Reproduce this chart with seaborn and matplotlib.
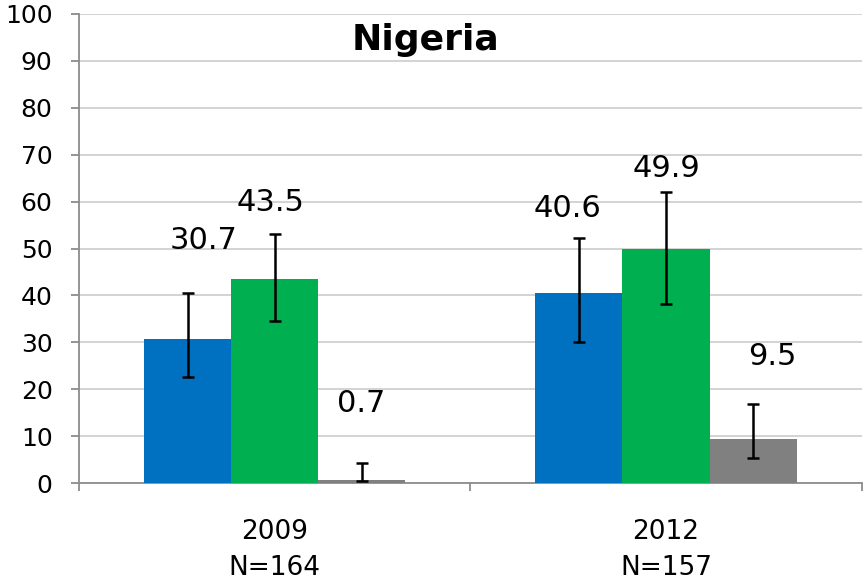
import numpy as np
import pandas as pd
import matplotlib
matplotlib.use("Agg")
import matplotlib.pyplot as plt
import seaborn as sns

# data
years = ["2009\nN=164", "2012\nN=157"]
series = ["Series 1", "Series 2", "Series 3"]
values_2009 = [30.7, 43.5, 0.7]
values_2012 = [40.6, 49.9, 9.5]
upper_2009 = [40.5, 53.2, 4.3]
lower_2009 = [22.6, 34.5, 0.4]
upper_2012 = [52.2, 62.0, 16.8]
lower_2012 = [30.1, 38.2, 5.3]

colors = ["#0070C0", "#00B050", "#808080"]
# how far above the upper error whisker each value label sits
label_offsets = [[11.3, 6.7, 12.7], [6.4, 5.0, 10.1]]
label_shift_x = [[0.04, -0.01, 0.0], [-0.03, 0.0, 0.05]]

rows = []
for year, vals in zip(years, [values_2009, values_2012]):
    for s, v in zip(series, vals):
        rows.append({"year": year, "series": s, "value": v})
df = pd.DataFrame(rows)

sns.set_style("white")
plt.rcParams["font.family"] = ["DejaVu Sans"]
plt.rcParams["text.color"] = "black"
plt.rcParams["xtick.labelcolor"] = "black"
plt.rcParams["ytick.labelcolor"] = "black"

fig = plt.figure(figsize=(8.66, 5.80), dpi=100)
ax = fig.add_axes([0.0912, 0.167, 0.9038, 0.809])

sns.barplot(data=df, x="year", y="value", hue="series", palette=colors,
            width=0.667, gap=0, errorbar=None, legend=False, ax=ax,
            saturation=1, edgecolor="none", zorder=3)

uppers = [upper_2009, upper_2012]
lowers = [lower_2009, lower_2012]
bar_containers = list(ax.containers)
for si, cont in enumerate(bar_containers):
    for ci, bar in enumerate(cont.patches):
        xc = bar.get_x() + bar.get_width() / 2
        v = bar.get_height()
        up, lo = uppers[ci][si], lowers[ci][si]
        ax.errorbar(xc, v, yerr=[[v - lo], [up - v]], fmt="none",
                    ecolor="black", elinewidth=1.8, capsize=4.3,
                    capthick=1.8, zorder=4)
        ax.text(xc + label_shift_x[ci][si], up + label_offsets[ci][si],
                f"{v:.1f}", ha="center", va="center", fontsize=22,
                color="black")

ax.set_ylim(0, 100)
ax.set_xlim(-0.5, 1.5)
ax.set_yticks(range(0, 101, 10))
ax.yaxis.grid(True, color="#D0D0D0", linewidth=1.3, zorder=0)
ax.set_axisbelow(True)
ax.set_xlabel("")
ax.set_ylabel("")
ax.set_title("Nigeria", fontsize=26, fontweight="bold", x=0.443, y=0.905,
             color="black")

for side in ["top", "right"]:
    ax.spines[side].set_visible(False)
for side in ["left", "bottom"]:
    ax.spines[side].set_color("#8C8C8C")
    ax.spines[side].set_linewidth(1.3)

ax.tick_params(axis="y", labelsize=18, length=6, color="#8C8C8C",
               width=1.3, direction="out", left=True, pad=13)
ax.tick_params(axis="x", which="major", labelsize=19, length=0, pad=26)
ax.set_xticks([-0.5, 0.5, 1.5], minor=True)
ax.tick_params(axis="x", which="minor", length=6, color="#8C8C8C",
               width=1.3, direction="out", bottom=True)
for lbl in ax.get_xticklabels():
    lbl.set_linespacing(1.5)

fig.savefig("out.png", dpi=100)
